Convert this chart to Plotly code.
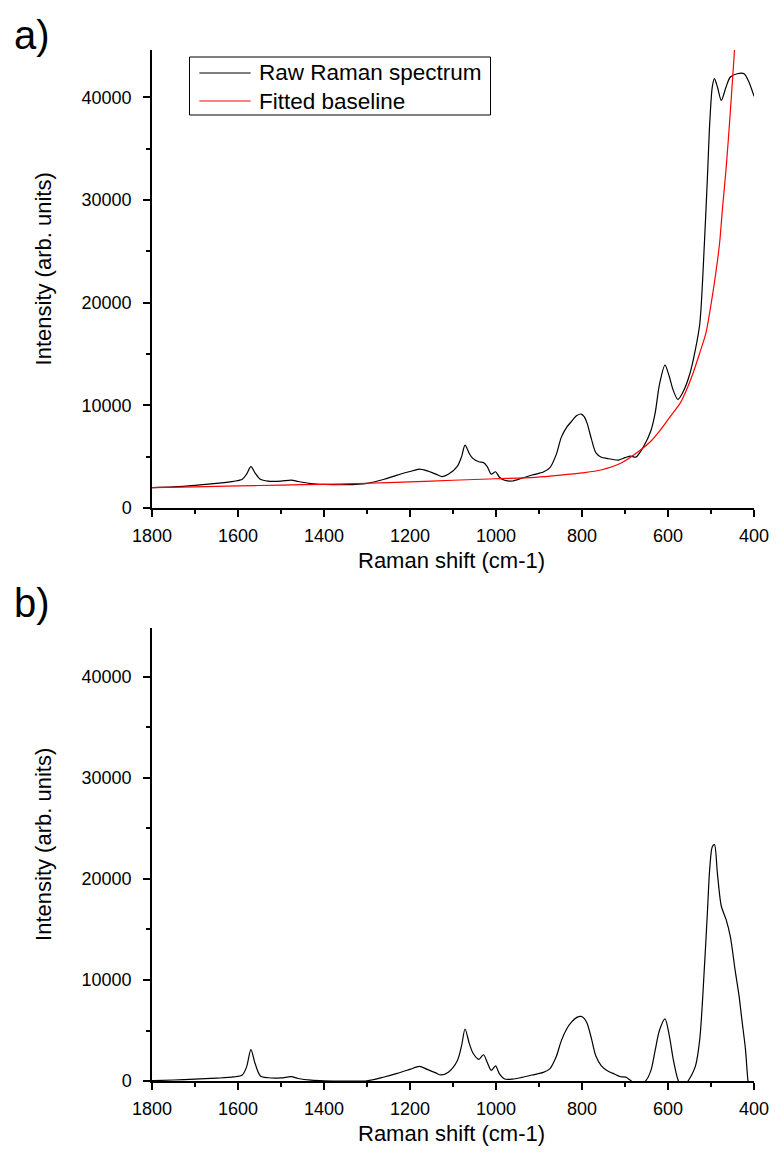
import plotly.graph_objects as go

# ---- Raman spectrum data (cm-1, arbitrary intensity units) ----
raw_shift = [1800, 1750, 1700, 1650, 1610, 1590, 1580, 1570, 1560, 1548, 1530, 1500,
             1476, 1460, 1430, 1400, 1350, 1300, 1260, 1230, 1200, 1178, 1160, 1140,
             1125, 1110, 1090, 1080, 1072, 1062, 1054, 1040, 1029, 1020, 1011, 1001,
             992, 980, 962, 940, 916, 890, 875, 860, 848, 835, 825, 812, 802, 795, 788,
             778, 768, 755, 742, 715, 700, 687, 675, 657, 640, 630, 620, 607, 597, 588,
             577, 565, 549, 536, 526, 515, 508, 503, 497, 492, 485, 476, 465, 455, 439,
             423, 412, 402, 400]
raw_intensity = [1980, 2050, 2200, 2400, 2600, 2800, 3300, 4020, 3400, 2800, 2620, 2620,
                 2720, 2580, 2380, 2300, 2270, 2400, 2800, 3200, 3550, 3790, 3620, 3300,
                 3050, 3300, 4050, 5000, 6130, 5300, 4830, 4500, 4420, 4000, 3300, 3530,
                 3000, 2700, 2630, 2900, 3210, 3500, 3900, 5200, 6900, 7900, 8400, 9000,
                 9150, 8900, 8240, 6700, 5400, 4950, 4830, 4670, 4900, 5060, 4950, 5970,
                 7500, 9210, 12000, 13910, 12800, 11480, 10570, 11300, 13100, 15500, 17970,
                 26080, 32500, 37430, 41000, 41810, 41000, 39700, 41000, 41970, 42290,
                 42290, 41500, 40350, 40100]

base_shift = [1800, 1700, 1600, 1500, 1400, 1300, 1200, 1100, 1000, 909, 850, 800, 756,
              710, 664, 640, 618, 595, 572, 557, 542, 527, 512, 500, 489, 480, 473, 465,
              457, 446, 440]
base_intensity = [1980, 2060, 2150, 2230, 2310, 2410, 2540, 2700, 2850, 2990, 3200, 3420,
                  3700, 4350, 5640, 6500, 7590, 8900, 10190, 11500, 13100, 15000, 17000,
                  19800, 22840, 25800, 29320, 33000, 37430, 44170, 48000]

corr_shift = [1800, 1750, 1700, 1650, 1610, 1590, 1580, 1570, 1560, 1548, 1530, 1500,
              1476, 1460, 1430, 1400, 1350, 1300, 1260, 1230, 1200, 1178, 1160, 1140,
              1128, 1110, 1090, 1080, 1072, 1062, 1054, 1040, 1029, 1020, 1011, 1001,
              992, 980, 962, 940, 916, 890, 875, 860, 848, 835, 825, 812, 802, 795, 788,
              778, 768, 755, 742, 725, 710, 698, 690, 684, 675, 662, 652, 640, 630, 620,
              607, 597, 588, 577, 565, 554, 545, 536, 526, 515, 508, 503, 497, 492, 485,
              476, 465, 455, 444, 435, 428, 420, 414, 405, 400]
corr_intensity = [30, 100, 180, 280, 400, 600, 1400, 3100, 1700, 500, 320, 300,
                  430, 250, 80, 20, 0, 20, 400, 750, 1150, 1450, 1150, 800,
                  600, 900, 2000, 3500, 5150, 3700, 2800, 2150, 2600, 1800, 1050, 1500,
                  700, 200, 180, 350, 590, 850, 1200, 2400, 4000, 5200, 5800, 6300,
                  6400, 6200, 5700, 4200, 2500, 1500, 1050, 700, 420, 380, 150, -50,
                  -400, -300, 0, 1000, 3000, 5000, 6150, 4500, 2200, 150, -800, -50,
                  600, 1500, 4200, 11500, 17000, 21000, 23200, 23400, 20500, 17300,
                  16000, 14300, 11000, 8500, 6000, 3200, 0, -2500, -3500]

x_ticks = [1800, 1600, 1400, 1200, 1000, 800, 600, 400]
y_ticks = [0, 10000, 20000, 30000, 40000]

legend_names = ["Raw Raman spectrum", "Fitted baseline"]
panel_labels = ["a)", "b)"]
x_title = "Raman shift (cm-1)"
y_title = "Intensity (arb. units)"

# ---- page geometry (pixels) ----
W, H = 781, 1155
L, R, T, B = 152, 19, 50, 74
plot_w = W - L - R
plot_h = H - T - B
bottom_px = H - B  # y pixel of the lower axis line


def px_x(px):
    return (px - L) / plot_w


def px_y(py):
    return (bottom_px - py) / plot_h


FONT = "Arial, 'Liberation Sans', sans-serif"
BLACK = "#000000"
RED = "#ff0000"

fig = go.Figure()

fig.add_trace(go.Scatter(x=raw_shift, y=raw_intensity, mode="lines",
                         line=dict(color=BLACK, width=1.2, shape="spline", smoothing=0.8),
                         name=legend_names[0], xaxis="x", yaxis="y", showlegend=False))
fig.add_trace(go.Scatter(x=base_shift, y=base_intensity, mode="lines",
                         line=dict(color=RED, width=1.2, shape="spline", smoothing=0.8),
                         name=legend_names[1], xaxis="x", yaxis="y", showlegend=False))
fig.add_trace(go.Scatter(x=corr_shift, y=corr_intensity, mode="lines",
                         line=dict(color=BLACK, width=1.2, shape="spline", smoothing=0.8),
                         name="Baseline corrected", xaxis="x2", yaxis="y2", showlegend=False))

xaxis_style = dict(
    range=[1800, 400], tickmode="array", tickvals=x_ticks,
    ticktext=[str(v) for v in x_ticks],
    showline=True, linecolor=BLACK, linewidth=1.5,
    ticks="outside", ticklen=7, tickwidth=1.5, tickcolor=BLACK,
    minor=dict(ticks="outside", ticklen=4, tickwidth=1.5, tickcolor=BLACK, dtick=100,
               tick0=0, showgrid=False),
    showgrid=False, zeroline=False,
    tickfont=dict(family=FONT, size=18, color=BLACK),
    ticklabelstandoff=4,
)
yaxis_style = dict(
    tickmode="array", tickvals=y_ticks, ticktext=[str(v) for v in y_ticks],
    showline=True, linecolor=BLACK, linewidth=1.5,
    ticks="outside", ticklen=7, tickwidth=1.5, tickcolor=BLACK,
    minor=dict(ticks="outside", ticklen=4, tickwidth=1.5, tickcolor=BLACK, dtick=5000,
               tick0=0, showgrid=False),
    showgrid=False, zeroline=False,
    tickfont=dict(family=FONT, size=18, color=BLACK),
    ticklabelstandoff=8,
)

top_a, bot_a = 50, 508
top_b, bot_b = 628, 1081

fig.update_layout(
    width=W, height=H,
    margin=dict(l=L, r=R, t=T, b=B),
    paper_bgcolor="white", plot_bgcolor="white",
    showlegend=False,
    xaxis=dict(xaxis_style, domain=[0, 1], anchor="y"),
    yaxis=dict(yaxis_style, domain=[px_y(bot_a), px_y(top_a)], range=[0, 44600],
               anchor="x"),
    xaxis2=dict(xaxis_style, domain=[0, 1], anchor="y2"),
    yaxis2=dict(yaxis_style, domain=[px_y(bot_b), px_y(top_b)], range=[0, 44850],
                anchor="x2"),
)

annotations = []
shapes = []

# panel letters and axis titles
for label, ly, bot, top in [(panel_labels[0], 35, bot_a, top_a),
                            (panel_labels[1], 603, bot_b, top_b)]:
    annotations.append(dict(text=label, xref="paper", yref="paper",
                            x=px_x(30), y=px_y(ly), showarrow=False,
                            xanchor="center", yanchor="middle",
                            font=dict(family=FONT, size=40, color=BLACK)))
    annotations.append(dict(text=x_title, xref="paper", yref="paper",
                            x=px_x(455), y=px_y(bot + 52), showarrow=False,
                            xanchor="center", yanchor="middle",
                            font=dict(family=FONT, size=22, color=BLACK)))
    annotations.append(dict(text=y_title, xref="paper", yref="paper",
                            x=px_x(42), y=px_y((bot + top) / 2 - 10), showarrow=False,
                            textangle=-90, xanchor="center", yanchor="middle",
                            font=dict(family=FONT, size=22, color=BLACK)))

# legend box for panel a
shapes.append(dict(type="rect", xref="paper", yref="paper",
                   x0=px_x(190), x1=px_x(495), y0=px_y(115), y1=px_y(57),
                   line=dict(color=BLACK, width=1), fillcolor="white", layer="above"))
for name, color, row_y in [(legend_names[0], BLACK, 73), (legend_names[1], RED, 101)]:
    shapes.append(dict(type="line", xref="paper", yref="paper",
                       x0=px_x(200), x1=px_x(252), y0=px_y(row_y), y1=px_y(row_y),
                       line=dict(color=color, width=1.2), layer="above"))
    annotations.append(dict(text=name, xref="paper", yref="paper",
                            x=px_x(258), y=px_y(row_y), showarrow=False,
                            xanchor="left", yanchor="middle",
                            font=dict(family=FONT, size=22.5, color=BLACK)))

fig.update_layout(annotations=annotations, shapes=shapes)

fig.write_html("out.html")
